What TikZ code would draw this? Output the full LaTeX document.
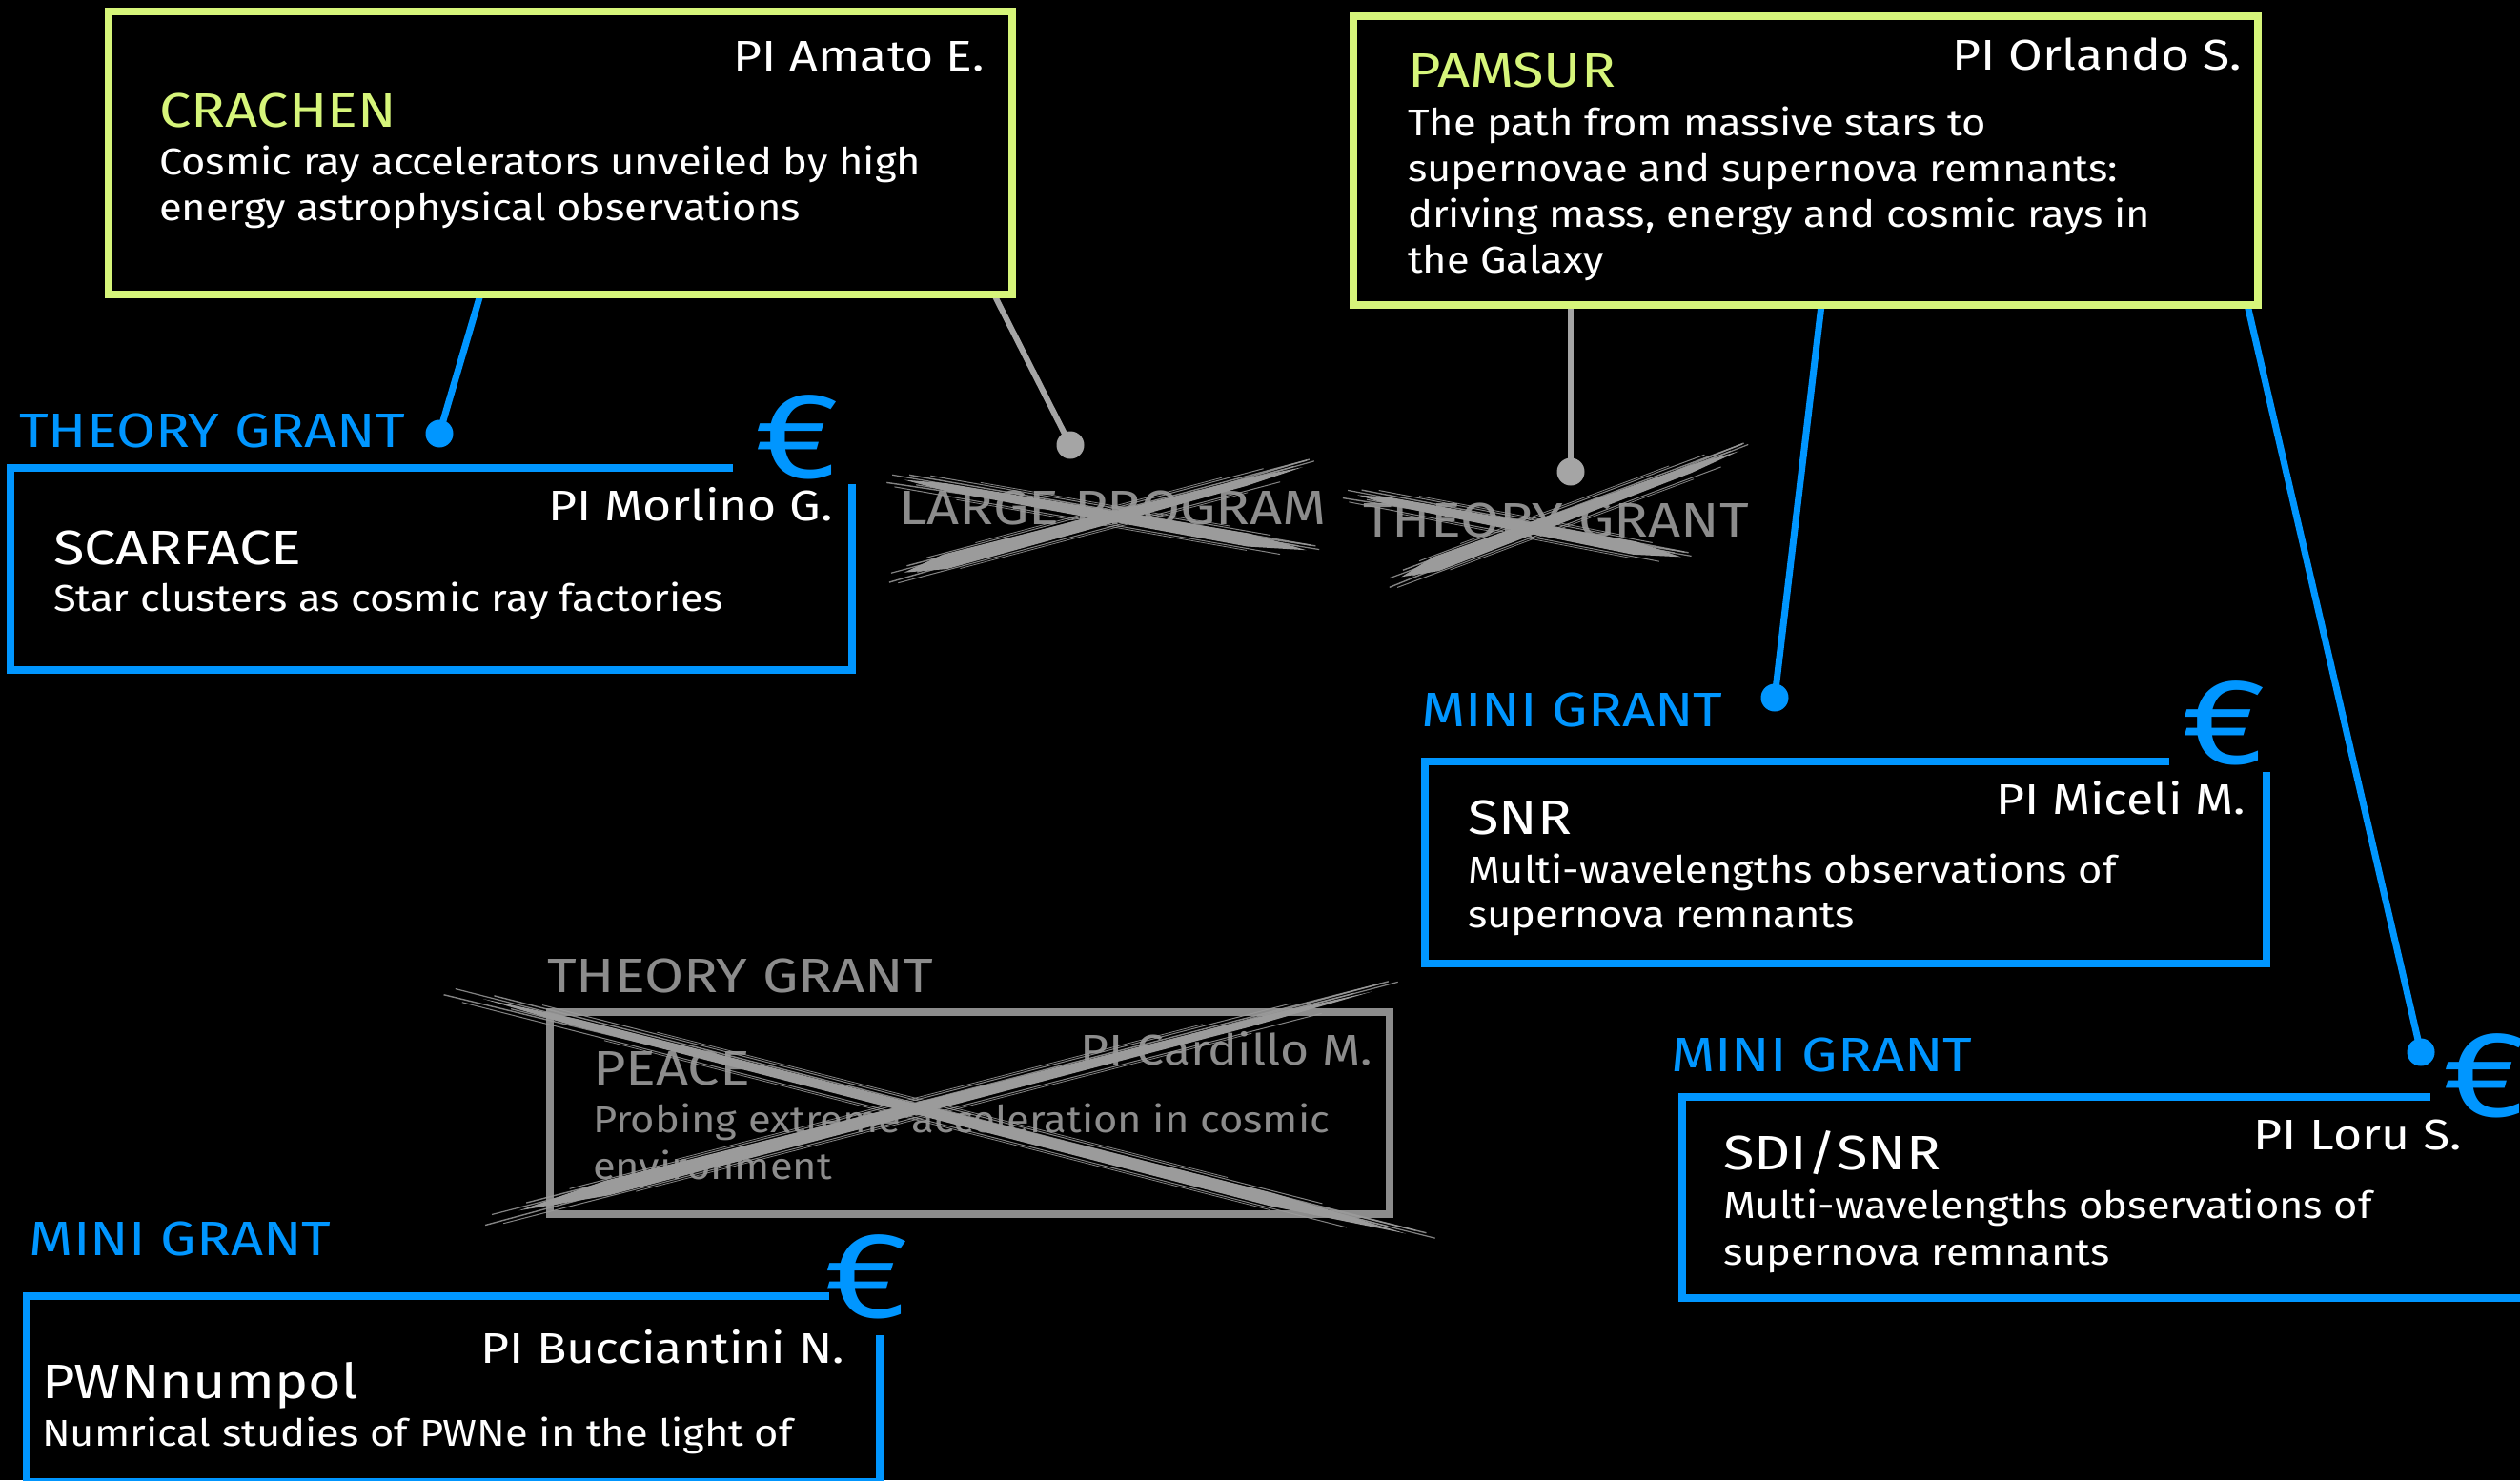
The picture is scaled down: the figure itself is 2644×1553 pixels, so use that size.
\documentclass[tikz,border=0pt]{standalone}
\usepackage{fontspec}
\setmainfont{Fira Sans}
\newfontfamily\fbody[FakeStretch=1.11]{Fira Sans}
\newfontfamily\fcaps[FakeStretch=1.17]{Fira Sans}
\newfontfamily\fpi[FakeStretch=1.15]{Fira Sans}
\newfontfamily\feuro[FakeStretch=1.22]{Fira Sans}
\usetikzlibrary{calc}

\definecolor{gblue}{RGB}{0,150,255}
\definecolor{lime}{RGB}{214,245,122}
\definecolor{ghost}{RGB}{140,140,140}
\definecolor{brushgray}{RGB}{155,155,155}
\definecolor{wire}{RGB}{165,165,165}

\tikzset{
  txt/.style={inner sep=0pt, outer sep=0pt, text=white},
  body/.style={txt, anchor=base west, font=\fbody\fontsize{19.6}{24}\selectfont},
  ttl/.style={txt, anchor=base west, font=\fcaps\fontsize{25.4}{30}\selectfont},
  pi/.style={txt, anchor=base east, font=\fpi\fontsize{22.5}{27}\selectfont},
  grant/.style={txt, anchor=base west, font=\fcaps\fontsize{25.4}{30}\selectfont, text=gblue},
  euro/.style={txt, text=gblue, font=\feuro\fontsize{64}{66}\selectfont},
  frame/.style={line width=4pt, line join=miter},
  bluewire/.style={draw=gblue, line width=3.5pt},
  graywire/.style={draw=wire, line width=3pt},
  bluedot/.style={circle, fill=gblue, inner sep=0pt, minimum size=14.5pt},
  graydot/.style={circle, fill=wire, inner sep=0pt, minimum size=14.5pt},
}

% one brush stroke from #1 to #2, half widths #3 (start) and #4 (end)
\newcommand\brushstroke[4]{%
  \fill[brushgray]
    ($(#1)!0.02!(#2)$)
    -- ($(#1)!0.12!(#2)!#3!90:(#2)$)
    -- ($(#1)!0.85!(#2)!#4!90:(#2)$)
    -- ($(#1)!0.99!(#2)$)
    -- ($(#1)!0.85!(#2)!#4!-90:(#2)$)
    -- ($(#1)!0.12!(#2)!#3!-90:(#2)$)
    -- cycle;
  \foreach \o/\s/\e/\w in {-4.5pt/0.00/0.93/0.5pt, -3pt/-0.02/1.01/0.7pt,
                           -1.5pt/0.05/1.02/0.6pt, 1.5pt/-0.01/0.97/0.6pt,
                           3pt/0.03/1.00/0.7pt, 4.5pt/0.08/0.90/0.5pt,
                           5.5pt/0.20/0.80/0.4pt, -5.5pt/0.15/0.85/0.4pt}{%
    \draw[brushgray, line width=\w, opacity=0.85]
      ($(#1)!\s!(#2)!\o!90:(#2)$) -- ($(#1)!\e!(#2)!\o!90:(#2)$);
  }%
}

\begin{document}
\begin{tikzpicture}[x=0.5pt, y=-0.5pt]
  % canvas
  \fill[black] (0,0) rectangle (2644,1553);
  \useasboundingbox (0,0) rectangle (2644,1553);

  % ---------------- connectors ----------------
  \coordinate (cr-s1) at (504,309);
  \coordinate (cr-s2) at (1043,309);
  \coordinate (pa-s1) at (1648,320);
  \coordinate (pa-s2) at (1911,320);
  \coordinate (pa-s3) at (2358,320);

  \node[bluedot] (dot-scar) at (461,455) {};
  \node[graydot] (dot-lp)   at (1123,467) {};
  \node[graydot] (dot-tg)   at (1648,495) {};
  \node[bluedot] (dot-snr)  at (1862,732) {};
  \node[bluedot] (dot-sdi)  at (2540,1104) {};

  \draw[bluewire] (cr-s1) -- (dot-scar.center);
  \draw[graywire] (cr-s2) -- (dot-lp.center);
  \draw[graywire] (pa-s1) -- (dot-tg.center);
  \draw[bluewire] (pa-s2) -- (dot-snr.center);
  \draw[bluewire] (pa-s3) -- (dot-sdi.center);

  % ---------------- CRACHEN ----------------
  \draw[frame, lime] (114,12) rectangle (1062,309);
  \node[pi]  (cr-pi)  at (1033,74)  {PI Amato E.};
  \node[ttl, text=lime] (cr-t) at (167,133) {CRACHEN};
  \node[body] (cr-b1) at (167,183) {Cosmic ray accelerators unveiled by high};
  \node[body] (cr-b2) at (167,231) {energy astrophysical observations};

  % ---------------- PAMSUR ----------------
  \draw[frame, lime] (1420,17) rectangle (2369,320);
  \node[pi]  (pa-pi) at (2352,73) {PI Orlando S.};
  \node[ttl, text=lime] (pa-t) at (1477,91) {PAMSUR};
  \node[body] (pa-b1) at (1477,142) {The path from massive stars to};
  \node[body] (pa-b2) at (1477,190) {supernovae and supernova remnants:};
  \node[body] (pa-b3) at (1477,238) {driving mass, energy and cosmic rays in};
  \node[body] (pa-b4) at (1477,286) {the Galaxy};

  % ---------------- SCARFACE ----------------
  \node[grant] (sc-g) at (20,469) {THEORY GRANT};
  \draw[frame, gblue] (769,491) -- (11,491) -- (11,702.5) -- (894,702.5) -- (894,508);
  \node[euro] (sc-eur) at (836,458.5) {€};
  \node[pi] (sc-pi) at (874,546) {PI Morlino G.};
  \node[ttl] (sc-t) at (56,592) {SCARFACE};
  \node[body] (sc-b1) at (56,641) {Star clusters as cosmic ray factories};

  % ---------------- withdrawn labels ----------------
  \node[grant, text=ghost] (lp-g) at (943,550) {LARGE PROGRAM};
  \node[grant, text=ghost] (tg-g) at (1430,563) {THEORY GRANT};
  \coordinate (lp-a1) at (940,502);  \coordinate (lp-a2) at (1375,578);
  \coordinate (lp-b1) at (940,603);  \coordinate (lp-b2) at (1371,489);
  \brushstroke{lp-a1}{lp-a2}{2pt}{3.5pt}
  \brushstroke{lp-b1}{lp-b2}{4pt}{2pt}
  \coordinate (tg-a1) at (1417,518); \coordinate (tg-a2) at (1767,585);
  \coordinate (tg-b1) at (1463,608); \coordinate (tg-b2) at (1828,472);
  \brushstroke{tg-a1}{tg-a2}{2pt}{3.5pt}
  \brushstroke{tg-b1}{tg-b2}{4pt}{2pt}

  % ---------------- SNR ----------------
  \node[grant] (snr-g) at (1491,762) {MINI GRANT};
  \draw[frame, gblue] (2276,798.5) -- (1495,798.5) -- (1495,1010.5) -- (2378,1010.5) -- (2378,810);
  \node[euro] (snr-eur) at (2333.5,758.5) {€};
  \node[pi] (snr-pi) at (2356,854) {PI Miceli M.};
  \node[ttl] (snr-t) at (1540,875) {SNR};
  \node[body] (snr-b1) at (1540,926) {Multi-wavelengths observations of};
  \node[body] (snr-b2) at (1540,973) {supernova remnants};

  % ---------------- SDI/SNR ----------------
  \node[grant] (sdi-g) at (1753,1124) {MINI GRANT};
  \draw[frame, gblue] (2550,1151) -- (1765,1151) -- (1765,1362) -- (2648,1362) -- (2648,1170);
  \node[euro] (sdi-eur) at (2607,1128.5) {€};
  \node[pi] (sdi-pi) at (2583,1206) {PI Loru S.};
  \node[ttl] (sdi-t) at (1808,1227) {SDI/SNR};
  \node[body] (sdi-b1) at (1808,1278) {Multi-wavelengths observations of};
  \node[body] (sdi-b2) at (1808,1327) {supernova remnants};

  % ---------------- PEACE (withdrawn) ----------------
  \node[grant, text=ghost] (pe-g) at (574,1041) {THEORY GRANT};
  \draw[frame, ghost] (577,1062) rectangle (1458,1274);
  \node[pi, text=ghost] (pe-pi) at (1440,1117) {PI Cardillo M.};
  \node[ttl, text=ghost] (pe-t) at (622,1138) {PEACE};
  \node[body, text=ghost] (pe-b1) at (622,1188) {Probing extreme acceleration in cosmic};
  \node[body, text=ghost] (pe-b2) at (622,1237) {environment};
  \coordinate (pe-a1) at (487,1043);  \coordinate (pe-a2) at (1485,1297);
  \coordinate (pe-b1) at (526,1275);  \coordinate (pe-b2) at (1449,1038);
  \brushstroke{pe-a1}{pe-a2}{2pt}{3.5pt}
  \brushstroke{pe-b1}{pe-b2}{4pt}{2pt}

  % ---------------- PWNnumpol ----------------
  \node[grant] (pw-g) at (31,1317) {MINI GRANT};
  \draw[frame, gblue] (870,1360) -- (28,1360) -- (28,1555) -- (923,1555) -- (923,1401);
  \node[euro] (pw-eur) at (909.5,1340) {€};
  \node[pi] (pw-pi) at (886,1430) {PI Bucciantini N.};
  \node[ttl] (pw-t) at (44,1467) {PWNnumpol};
  \node[body] (pw-b1) at (44,1517) {Numrical studies of PWNe in the light of};
\end{tikzpicture}
\end{document}
